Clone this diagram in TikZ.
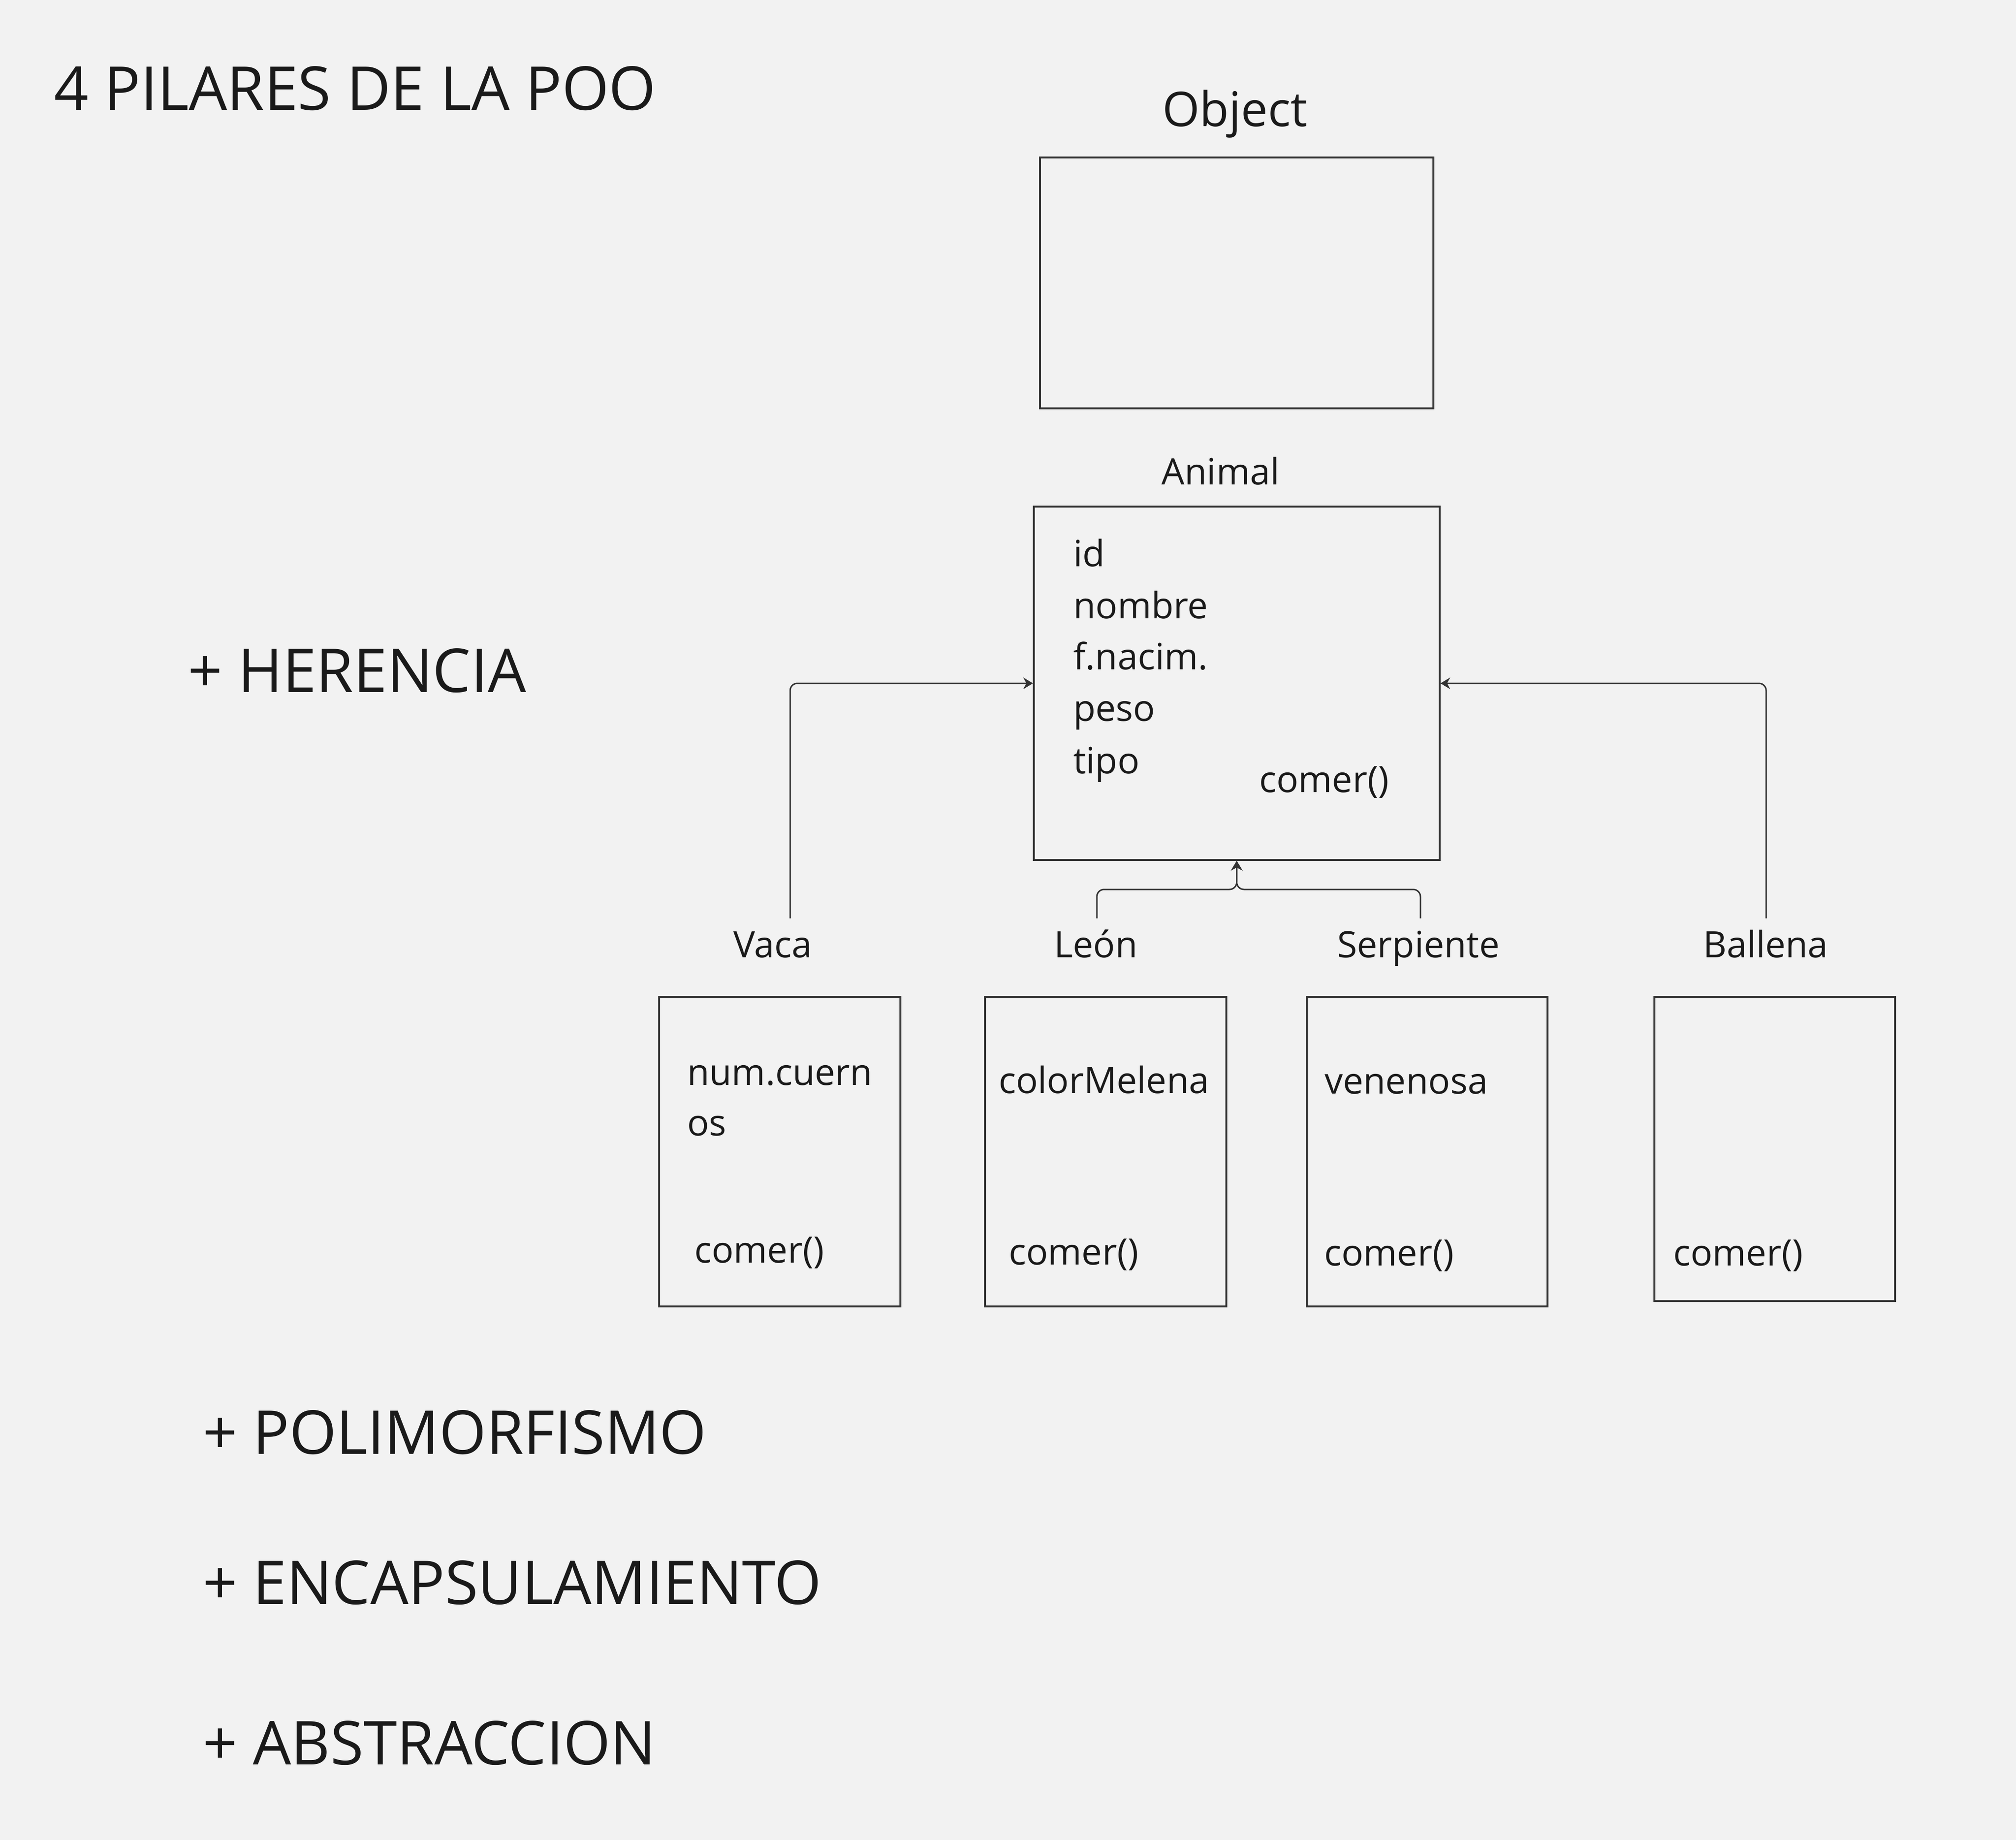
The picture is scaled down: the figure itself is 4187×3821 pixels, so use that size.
\documentclass[tikz,border=0pt]{standalone}
\usepackage{fontspec}
\setmainfont{Open Sans}
\usetikzlibrary{arrows.meta}
\definecolor{bg}{HTML}{F2F2F2}
\definecolor{ink}{HTML}{1A1A1A}
\definecolor{edge}{HTML}{333333}
\begin{document}
\begin{tikzpicture}[x=1pt,y=-1pt,
  big/.style={font=\fontsize{125.5}{150}\selectfont, text=ink, anchor=base west, inner sep=0pt},
  txt/.style={font=\fontsize{75.5}{92}\selectfont, text=ink, anchor=base west, inner sep=0pt},
  lbl/.style={font=\fontsize{75.5}{92}\selectfont, text=ink, anchor=base, inner sep=0pt},
  classbox/.style={draw=edge, line width=3.5pt, inner sep=0pt},
  conn/.style={draw=edge, line width=3pt, rounded corners=15pt, -{Stealth[length=20pt,width=24pt]}}
]
\useasboundingbox (0,0) rectangle (4187,3821);
\fill[bg] (0,0) rectangle (4187,3821);

% titles
\node[big] (title) at (112,229) {4 PILARES DE LA POO};
\node[big] (herencia) at (390,1437) {+ HERENCIA};
\node[big] (polimorfismo) at (421,3019) {+ POLIMORFISMO};
\node[big] (encapsulamiento) at (421,3331) {+ ENCAPSULAMIENTO};
\node[big] (abstraccion) at (421,3664) {+ ABSTRACCION};

% Object
\node[lbl, font=\fontsize{99.5}{118}\selectfont] (objectlbl) at (2565,263) {Object};
\node[classbox, minimum width=817pt, minimum height=521pt] (object) at (2568.5,587.5) {};

% Animal
\node[lbl] (animallbl) at (2535,1006) {Animal};
\node[classbox, minimum width=843pt, minimum height=734pt] (animal) at (2568.5,1419) {};
\node[txt] (a1) at (2229,1176) {id};
\node[txt] (a2) at (2229,1284) {nombre};
\node[txt] (a3) at (2229,1390) {f.nacim.};
\node[txt] (a4) at (2229,1497) {peso};
\node[txt] (a5) at (2229,1606) {tipo};
\node[txt] (acomer) at (2615,1645) {comer()};

% children labels
\node[lbl] (vacalbl) at (1605,1988) {Vaca};
\node[lbl] (leonlbl) at (2276,1988) {León};
\node[lbl] (serplbl) at (2946,1988) {Serpiente};
\node[lbl] (ballbl) at (3667,1988) {Ballena};

% children boxes
\node[classbox, minimum width=501pt, minimum height=643pt] (vaca) at (1619.5,2391.5) {};
\node[classbox, minimum width=501pt, minimum height=643pt] (leon) at (2296.5,2391.5) {};
\node[classbox, minimum width=500pt, minimum height=643pt] (serp) at (2964,2391.5) {};
\node[classbox, minimum width=500pt, minimum height=632pt] (ballena) at (3686,2386) {};

\node[txt] (v1) at (1427,2253) {num.cuern};
\node[txt] (v2) at (1427,2358) {os};
\node[txt] (vcomer) at (1442,2622) {comer()};
\node[txt] (l1) at (2074,2270) {colorMelena};
\node[txt] (lcomer) at (2095,2626) {comer()};
\node[txt] (s1) at (2751,2271) {venenosa};
\node[txt] (scomer) at (2750,2628) {comer()};
\node[txt] (bcomer) at (3475,2628) {comer()};

% connectors
\coordinate (vt) at (1641,1907);
\coordinate (lt) at (2278,1907);
\coordinate (st) at (2950,1907);
\coordinate (bt) at (3668,1907);
\draw[conn] (vt) |- (animal.west);
\draw[conn] (bt) |- (animal.east);
\draw[conn] (lt) -- ++(0,-60) -| (animal.south);
\draw[conn] (st) -- ++(0,-60) -| (animal.south);
\end{tikzpicture}
\end{document}
